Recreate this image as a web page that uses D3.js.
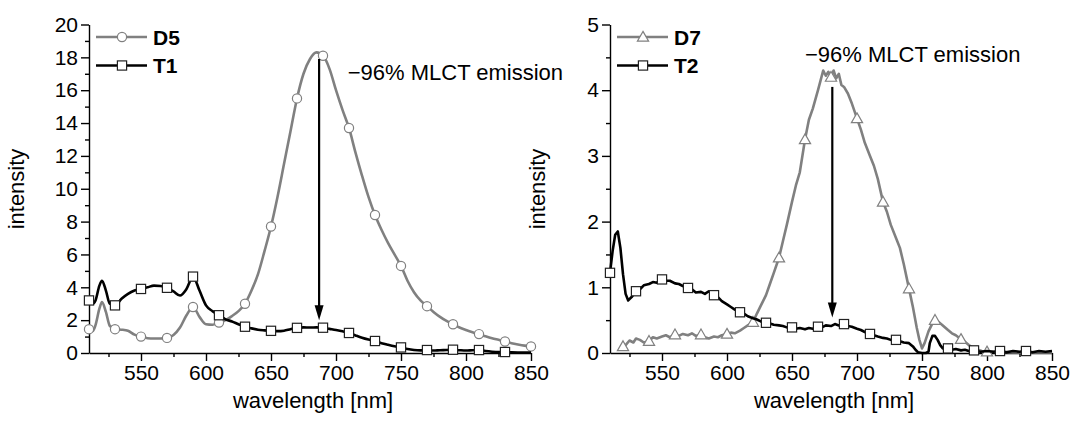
<!DOCTYPE html>
<html>
<head>
<meta charset="utf-8">
<script src="https://cdn.jsdelivr.net/npm/d3@7"></script>
<style>
  body { margin: 0; background: #fff; }
  text { font-family: "Liberation Sans", Arial, sans-serif; fill: #000; }
</style>
</head>
<body>
<script>
// ---- left panel: D5 / T1 ----
const wlLeft = [510, 513, 515, 518, 520, 523, 526, 530,
  535, 540, 545, 550, 555, 560, 565, 570, 575, 580, 585, 590, 595, 600,
  605, 610, 615, 620, 625, 630, 635, 640, 645, 650,
  655, 660, 665, 670, 675, 680, 685, 690, 695, 700,
  705, 710, 715, 720, 725, 730, 735, 740, 745, 750,
  755, 760, 765, 770, 775, 780, 785, 790, 795, 800,
  805, 810, 815, 820, 825, 830, 835, 840, 845, 850];
const d5 = [1.45, 1.35, 1.7, 2.7, 3.1, 2.5, 1.65, 1.45,
  1.42, 1.35, 1.12, 1.0, 0.9, 0.88, 0.88, 0.92, 1.1, 1.55, 2.3, 2.8, 2.2, 1.75,
  1.72, 1.85, 2.0, 2.25, 2.55, 3.0, 3.8, 4.8, 6.2, 7.7,
  9.5, 11.5, 13.5, 15.5, 17.0, 17.9, 18.3, 18.1, 17.3, 16.0,
  14.8, 13.7, 12.2, 10.8, 9.5, 8.4, 7.5, 6.7, 6.0, 5.3,
  4.4, 3.7, 3.2, 2.85, 2.5, 2.2, 1.95, 1.75, 1.55, 1.4,
  1.27, 1.15, 1.02, 0.9, 0.8, 0.7, 0.6, 0.52, 0.45, 0.4];
const t1 = [3.2, 3.0, 3.2, 4.1, 4.4, 3.8, 3.0, 2.9,
  3.3, 3.6, 3.8, 3.9, 4.0, 4.1, 4.08, 3.97, 3.75, 3.5, 3.9, 4.65, 3.8, 2.9,
  2.55, 2.3, 2.05, 1.92, 1.75, 1.6, 1.5, 1.42, 1.38, 1.35,
  1.33, 1.36, 1.45, 1.53, 1.56, 1.55, 1.56, 1.54, 1.47, 1.4,
  1.32, 1.22, 1.07, 0.93, 0.82, 0.73, 0.6, 0.5, 0.41, 0.34,
  0.24, 0.18, 0.16, 0.18, 0.15, 0.17, 0.18, 0.2, 0.17, 0.15,
  0.17, 0.18, 0.12, 0.08, 0.06, 0.06, 0.04, 0.03, 0.03, 0.03];
const d5Markers = [510, 530, 550, 570, 590, 610, 630, 650, 670, 690, 710, 730, 750, 770, 790, 810, 830, 850];
const t1Markers = [510, 530, 550, 570, 590, 610, 630, 650, 670, 690, 710, 730, 750, 770, 790, 810, 830];

// ---- right panel: D7 / T2 ----
const wlD7 = [518, 520, 522, 525, 528, 530, 533, 536, 540, 543, 546, 550, 553, 556,
  560, 563, 566, 570, 573, 576, 580, 583, 586, 590, 593, 596, 600, 603, 606,
  610, 613, 616, 620, 623, 626, 630, 633, 636, 640, 643, 646, 650, 653, 656,
  660, 663, 666, 670, 672, 674, 676, 678, 680, 682, 684, 686, 688, 690, 693, 696,
  700, 703, 706, 710, 713, 716, 720, 723, 726, 730, 733, 736, 740, 743, 746, 748,
  750, 752, 755, 758, 760, 763, 766, 770, 773, 776, 780, 783, 786, 790, 793, 796,
  800, 810, 820, 830, 840, 850];
const d7 = [0.05, 0.1, 0.12, 0.19, 0.16, 0.22, 0.2, 0.16, 0.18, 0.24, 0.22, 0.25, 0.27, 0.24,
  0.28, 0.26, 0.29, 0.27, 0.3, 0.26, 0.28, 0.24, 0.22, 0.25, 0.24, 0.27, 0.29, 0.31, 0.3,
  0.34, 0.38, 0.42, 0.47, 0.6, 0.72, 0.88, 1.05, 1.22, 1.45, 1.7, 1.95, 2.3, 2.55, 2.75,
  3.25, 3.55, 3.72, 4.0, 4.15, 4.3, 4.22, 4.28, 4.2, 4.3, 4.18, 4.25, 4.08, 4.05, 3.95, 3.8,
  3.57, 3.4, 3.2, 3.0, 2.85, 2.65, 2.3, 2.15, 1.95, 1.75, 1.6, 1.35, 0.98, 0.7, 0.38, 0.2,
  0.07, 0.15, 0.33, 0.45, 0.5, 0.47, 0.42, 0.35, 0.3, 0.27, 0.21, 0.17, 0.12, 0.07, 0.05, 0.03,
  0.02, 0.02, 0.01, 0.01, 0.01, 0.01];
const wlT2 = [510, 512, 514, 516, 518, 520, 522, 524, 527, 530, 533, 536, 540, 543, 546,
  550, 553, 556, 560, 563, 566, 570, 573, 576, 580, 583, 586, 590, 593, 596,
  600, 603, 606, 610, 613, 616, 620, 623, 626, 630, 633, 636, 640, 643, 646,
  650, 653, 656, 660, 663, 666, 670, 673, 676, 680, 683, 686, 690, 693, 696,
  700, 703, 706, 710, 713, 716, 720, 723, 726, 730, 733, 736, 740, 743, 745, 747,
  750, 753, 755, 756, 758, 760, 762, 764, 766, 770, 773, 776, 780, 783, 786,
  790, 795, 800, 805, 810, 815, 820, 825, 830, 835, 840, 845, 850];
const t2 = [1.22, 1.55, 1.8, 1.85, 1.6, 1.2, 0.9, 0.8, 0.86, 0.94, 0.97, 1.03, 1.05, 1.08, 1.07,
  1.12, 1.1, 1.1, 1.06, 1.05, 1.02, 0.99, 0.97, 0.92, 0.93, 0.9, 0.94, 0.88, 0.85, 0.79,
  0.74, 0.7, 0.66, 0.62, 0.6, 0.56, 0.53, 0.51, 0.48, 0.46, 0.45, 0.43, 0.42, 0.41, 0.39,
  0.39, 0.37, 0.38, 0.36, 0.38, 0.37, 0.4, 0.39, 0.42, 0.41, 0.44, 0.42, 0.44, 0.41, 0.4,
  0.37, 0.35, 0.32, 0.29, 0.27, 0.25, 0.23, 0.22, 0.2, 0.2, 0.18, 0.16, 0.15, 0.1, 0.05, 0.01,
  0.0, 0.0, 0.02, 0.15, 0.26, 0.26, 0.2, 0.12, 0.07, 0.07, 0.05, 0.06, 0.04, 0.05, 0.03,
  0.04, 0.02, 0.03, 0.02, 0.03, 0.01, 0.03, 0.02, 0.03, 0.01, 0.03, 0.02, 0.03];
const d7Markers = [520, 540, 560, 580, 600, 620, 640, 660, 680, 700, 720, 740, 760, 780, 800];
const t2Markers = [510, 530, 550, 570, 590, 610, 630, 650, 670, 690, 710, 730, 770, 790, 810, 830];

// ticks
const xMajor = [550, 600, 650, 700, 750, 800, 850];
const xMinor = [525, 575, 625, 675, 725, 775, 825];
const yMajorLeft = [0, 2, 4, 6, 8, 10, 12, 14, 16, 18, 20];
const yMinorLeft = [1, 3, 5, 7, 9, 11, 13, 15, 17, 19];
const yMajorRight = [0, 1, 2, 3, 4, 5];
const yMinorRight = [0.5, 1.5, 2.5, 3.5, 4.5];

const GRAY = "#808080";
const svg = d3.select("body").append("svg").attr("width", 1072).attr("height", 421);

function symbol(g, type, cx, cy, stroke) {
  if (type === "circle") {
    g.append("circle").attr("cx", cx).attr("cy", cy).attr("r", 4.6)
      .attr("fill", "#fff").attr("stroke", stroke).attr("stroke-width", 1.2);
  } else if (type === "square") {
    g.append("rect").attr("x", cx - 4.6).attr("y", cy - 4.6).attr("width", 9.2).attr("height", 9.2)
      .attr("fill", "#fff").attr("stroke", "#222").attr("stroke-width", 1.2);
  } else {
    const h = 5.6;
    g.append("path").attr("d", `M${cx},${cy - h}L${cx + h},${cy + h * 0.75}L${cx - h},${cy + h * 0.75}Z`)
      .attr("fill", "#fff").attr("stroke", stroke).attr("stroke-width", 1.2);
  }
}

function panel(cfg) {
  const x = d3.scaleLinear().domain([510, 850]).range([cfg.left, cfg.left + 442]);
  const y = d3.scaleLinear().domain([0, cfg.yMax]).range([353, 24.5]);
  const g = svg.append("g");

  // minor ticks
  g.append("g").attr("transform", "translate(0,353)")
    .call(d3.axisBottom(x).tickValues(xMinor).tickSize(4).tickFormat(""))
    .call(s => s.select(".domain").remove());
  g.append("g").attr("transform", `translate(${cfg.left},0)`)
    .call(d3.axisLeft(y).tickValues(cfg.yMinor).tickSize(4).tickFormat(""))
    .call(s => s.select(".domain").remove());

  // major axes
  const xa = g.append("g").attr("transform", "translate(0,353)")
    .call(d3.axisBottom(x).tickValues(xMajor).tickSize(8).tickPadding(4).tickSizeOuter(0));
  const ya = g.append("g").attr("transform", `translate(${cfg.left},0)`)
    .call(d3.axisLeft(y).tickValues(cfg.yMajor).tickFormat(d3.format("d"))
      .tickSize(8).tickPadding(3).tickSizeOuter(0));
  [xa, ya].forEach(a => a.selectAll("text").style("font-size", "21px").attr("fill", "#000"));
  g.selectAll(".domain, .tick line").attr("stroke", "#000").attr("stroke-width", 1.4);

  // series
  cfg.series.forEach(s => {
    const pts = s.wl.map((w, i) => ({ w: w, v: s.values[i] }));
    g.append("path").datum(pts)
      .attr("fill", "none").attr("stroke", s.color).attr("stroke-width", 2.6)
      .attr("stroke-linejoin", "round")
      .attr("d", d3.line().x(d => x(d.w)).y(d => y(d.v)).curve(cfg.curve));
    pts.filter(d => s.markers.includes(d.w))
      .forEach(d => symbol(g, s.symbol, x(d.w), y(d.v), s.color));
  });

  // legend
  cfg.series.forEach((s, i) => {
    const ly = 37 + i * 28.5;
    g.append("line").attr("x1", cfg.left + 7).attr("x2", cfg.left + 58)
      .attr("y1", ly).attr("y2", ly).attr("stroke", s.color).attr("stroke-width", 2.6);
    symbol(g, s.symbol, cfg.left + 33, ly, s.color);
    g.append("text").attr("x", cfg.left + 64).attr("y", ly + 7.5)
      .style("font-size", "21px").style("font-weight", "bold").text(s.name);
  });

  // arrow + note
  const ax = x(cfg.arrow.w), y1 = y(cfg.arrow.from), y2 = y(cfg.arrow.to);
  g.append("line").attr("x1", ax).attr("x2", ax).attr("y1", y1).attr("y2", y2 - 12)
    .attr("stroke", "#000").attr("stroke-width", 2.2);
  g.append("path").attr("d", `M${ax - 4.5},${y2 - 15}L${ax + 4.5},${y2 - 15}L${ax},${y2}Z`).attr("fill", "#000");
  g.append("text").attr("x", x(cfg.note.w)).attr("y", y(cfg.note.v))
    .style("font-size", "22px").text("\u221296% MLCT emission");

  // axis titles
  g.append("text").attr("transform", `translate(${cfg.left - 65},189) rotate(-90)`)
    .attr("text-anchor", "middle").style("font-size", "22px").text("intensity");
  g.append("text").attr("x", cfg.left + 224).attr("y", 408)
    .attr("text-anchor", "middle").style("font-size", "22px").text("wavelength [nm]");
}

panel({
  left: 89, yMax: 20, yMajor: yMajorLeft, yMinor: yMinorLeft, curve: d3.curveMonotoneX,
  series: [
    { name: "D5", wl: wlLeft, values: d5, markers: d5Markers, color: GRAY, symbol: "circle" },
    { name: "T1", wl: wlLeft, values: t1, markers: t1Markers, color: "#000", symbol: "square" }
  ],
  arrow: { w: 687, from: 17.9, to: 2.0 },
  note: { w: 709, v: 16.6 }
});

panel({
  left: 610, yMax: 5, yMajor: yMajorRight, yMinor: yMinorRight, curve: d3.curveLinear,
  series: [
    { name: "D7", wl: wlD7, values: d7, markers: d7Markers, color: GRAY, symbol: "triangle" },
    { name: "T2", wl: wlT2, values: t2, markers: t2Markers, color: "#000", symbol: "square" }
  ],
  arrow: { w: 681, from: 4.05, to: 0.54 },
  note: { w: 660, v: 4.43 }
});
</script>
</body>
</html>
